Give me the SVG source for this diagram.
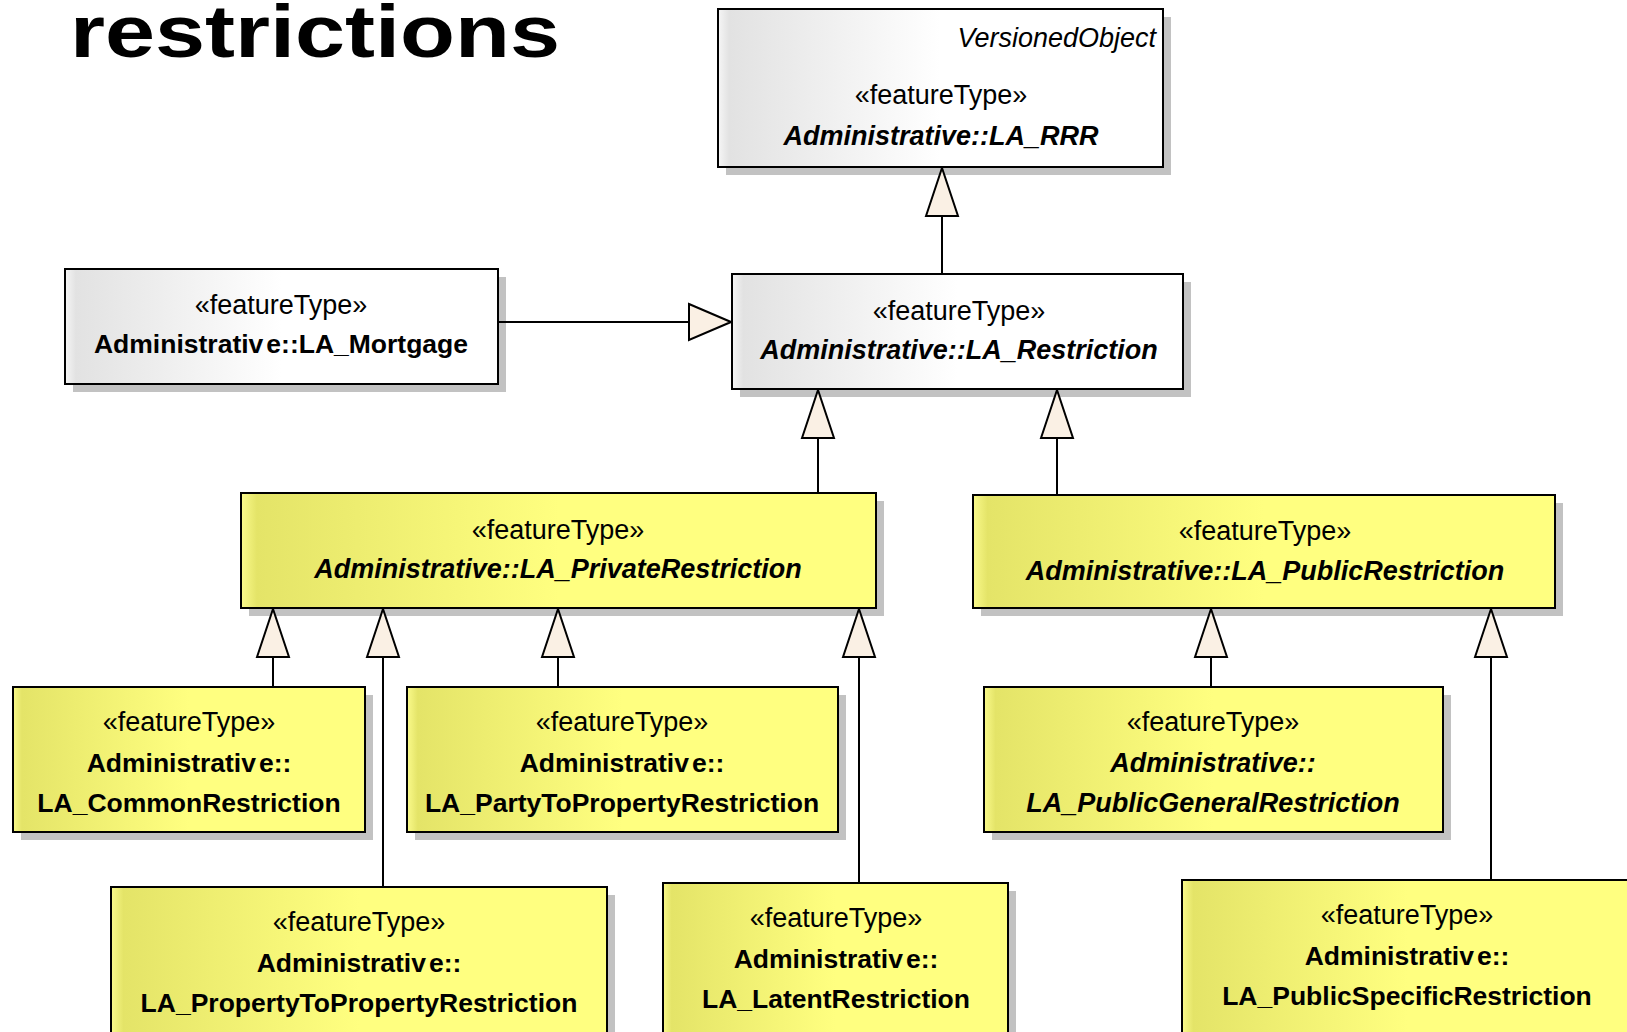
<svg xmlns="http://www.w3.org/2000/svg" width="1627" height="1032" viewBox="0 0 1627 1032">
  <defs>
    <linearGradient id="gGray" x1="0" y1="0" x2="1" y2="0">
      <stop offset="0" stop-color="#f6f6f6"/>
      <stop offset="0.025" stop-color="#e2e2e2"/>
      <stop offset="0.5" stop-color="#ffffff"/>
      <stop offset="1" stop-color="#ffffff"/>
    </linearGradient>
    <linearGradient id="gYellow" x1="0" y1="0" x2="1" y2="0">
      <stop offset="0" stop-color="#fafa8c"/>
      <stop offset="0.025" stop-color="#e4e468"/>
      <stop offset="0.5" stop-color="#ffff80"/>
      <stop offset="1" stop-color="#ffff80"/>
    </linearGradient>
    <!-- hollow generalization arrowheads -->
    <marker id="genV" markerUnits="userSpaceOnUse" markerWidth="50" markerHeight="36" viewBox="-1 -2 50 36" refX="48" refY="16" orient="auto">
      <path d="M0,0 L48,16 L0,32 Z" fill="#faf0e4" stroke="#000" stroke-width="2" stroke-linejoin="miter"/>
    </marker>
    <marker id="genH" markerUnits="userSpaceOnUse" markerWidth="44" markerHeight="40" viewBox="-1 -2 44 40" refX="42" refY="18" orient="auto">
      <path d="M0,0 L42,18 L0,36 Z" fill="#faf0e4" stroke="#000" stroke-width="2" stroke-linejoin="miter"/>
    </marker>
  </defs>
  <style>
    .shadow { fill: #c2c2c2; }
    .box { stroke: #000; stroke-width: 2; }
    .gray { fill: url(#gGray); }
    .yel { fill: url(#gYellow); }
    text { font-family: "Liberation Sans", Arial, sans-serif; fill: #000; }
    .st { font-size: 27px; text-anchor: middle; }
    .vo { font-size: 27px; font-style: italic; text-anchor: end; }
    .nm { font-size: 26.5px; font-weight: bold; text-anchor: middle; }
    .it { font-size: 27px; font-style: italic; }
    .title { font-size: 74px; font-weight: bold; }
    .conn { stroke: #000; stroke-width: 2; fill: none; }
  </style>

  <rect width="1627" height="1032" fill="#ffffff"/>

  <text class="title" x="70" y="57" textLength="490" lengthAdjust="spacingAndGlyphs">restrictions</text>

  <g id="la-rrr">
    <rect class="shadow" x="726" y="17" width="445" height="158"/>
    <rect class="box gray" x="718" y="9" width="445" height="158"/>
    <text class="vo" x="1156" y="47">VersionedObject</text>
    <text class="st" x="941" y="104">«featureType»</text>
    <text class="nm it" x="941" y="145">Administrative::LA_RRR</text>
  </g>

  <g id="la-mortgage">
    <rect class="shadow" x="73" y="277" width="433" height="115"/>
    <rect class="box gray" x="65" y="269" width="433" height="115"/>
    <text class="st" x="281" y="314">«featureType»</text>
    <text class="nm" x="281" y="353"><tspan>Administrativ</tspan><tspan dx="3">e::LA_Mortgage</tspan></text>
  </g>

  <g id="la-restriction">
    <rect class="shadow" x="740" y="282" width="451" height="115"/>
    <rect class="box gray" x="732" y="274" width="451" height="115"/>
    <text class="st" x="959" y="320">«featureType»</text>
    <text class="nm it" x="959" y="359">Administrative::LA_Restriction</text>
  </g>

  <g id="la-private-restriction">
    <rect class="shadow" x="249" y="501" width="635" height="115"/>
    <rect class="box yel" x="241" y="493" width="635" height="115"/>
    <text class="st" x="558" y="539">«featureType»</text>
    <text class="nm it" x="558" y="578">Administrative::LA_PrivateRestriction</text>
  </g>

  <g id="la-public-restriction">
    <rect class="shadow" x="981" y="503" width="582" height="113"/>
    <rect class="box yel" x="973" y="495" width="582" height="113"/>
    <text class="st" x="1265" y="540">«featureType»</text>
    <text class="nm it" x="1265" y="580">Administrative::LA_PublicRestriction</text>
  </g>

  <g id="la-common-restriction">
    <rect class="shadow" x="21" y="695" width="352" height="145"/>
    <rect class="box yel" x="13" y="687" width="352" height="145"/>
    <text class="st" x="189" y="731">«featureType»</text>
    <text class="nm" x="189" y="772"><tspan>Administrativ</tspan><tspan dx="3">e::</tspan></text>
    <text class="nm" x="189" y="812">LA_CommonRestriction</text>
  </g>

  <g id="la-party-to-property-restriction">
    <rect class="shadow" x="415" y="695" width="431" height="145"/>
    <rect class="box yel" x="407" y="687" width="431" height="145"/>
    <text class="st" x="622" y="731">«featureType»</text>
    <text class="nm" x="622" y="772"><tspan>Administrativ</tspan><tspan dx="3">e::</tspan></text>
    <text class="nm" x="622" y="812">LA_PartyToPropertyRestriction</text>
  </g>

  <g id="la-public-general-restriction">
    <rect class="shadow" x="992" y="695" width="459" height="145"/>
    <rect class="box yel" x="984" y="687" width="459" height="145"/>
    <text class="st" x="1213" y="731">«featureType»</text>
    <text class="nm it" x="1213" y="772">Administrative::</text>
    <text class="nm it" x="1213" y="812">LA_PublicGeneralRestriction</text>
  </g>

  <g id="la-property-to-property-restriction">
    <rect class="shadow" x="119" y="895" width="496" height="160"/>
    <rect class="box yel" x="111" y="887" width="496" height="160"/>
    <text class="st" x="359" y="931">«featureType»</text>
    <text class="nm" x="359" y="972"><tspan>Administrativ</tspan><tspan dx="3">e::</tspan></text>
    <text class="nm" x="359" y="1012">LA_PropertyToPropertyRestriction</text>
  </g>

  <g id="la-latent-restriction">
    <rect class="shadow" x="671" y="891" width="345" height="160"/>
    <rect class="box yel" x="663" y="883" width="345" height="160"/>
    <text class="st" x="836" y="927">«featureType»</text>
    <text class="nm" x="836" y="968"><tspan>Administrativ</tspan><tspan dx="3">e::</tspan></text>
    <text class="nm" x="836" y="1008">LA_LatentRestriction</text>
  </g>

  <g id="la-public-specific-restriction">
    <rect class="shadow" x="1190" y="888" width="451" height="160"/>
    <rect class="box yel" x="1182" y="880" width="451" height="160"/>
    <text class="st" x="1407" y="924">«featureType»</text>
    <text class="nm" x="1407" y="965"><tspan>Administrativ</tspan><tspan dx="3">e::</tspan></text>
    <text class="nm" x="1407" y="1005">LA_PublicSpecificRestriction</text>
  </g>

  <!-- generalization connectors (child to parent) -->
  <g id="connectors">
    <path class="conn" d="M942,274 L942,168" marker-end="url(#genV)"/>
    <path class="conn" d="M498,322 L731,322" marker-end="url(#genH)"/>
    <path class="conn" d="M818,493 L818,390" marker-end="url(#genV)"/>
    <path class="conn" d="M1057,495 L1057,390" marker-end="url(#genV)"/>
    <path class="conn" d="M273,687 L273,609" marker-end="url(#genV)"/>
    <path class="conn" d="M383,887 L383,609" marker-end="url(#genV)"/>
    <path class="conn" d="M558,687 L558,609" marker-end="url(#genV)"/>
    <path class="conn" d="M859,883 L859,609" marker-end="url(#genV)"/>
    <path class="conn" d="M1211,687 L1211,609" marker-end="url(#genV)"/>
    <path class="conn" d="M1491,880 L1491,609" marker-end="url(#genV)"/>
  </g>
</svg>
